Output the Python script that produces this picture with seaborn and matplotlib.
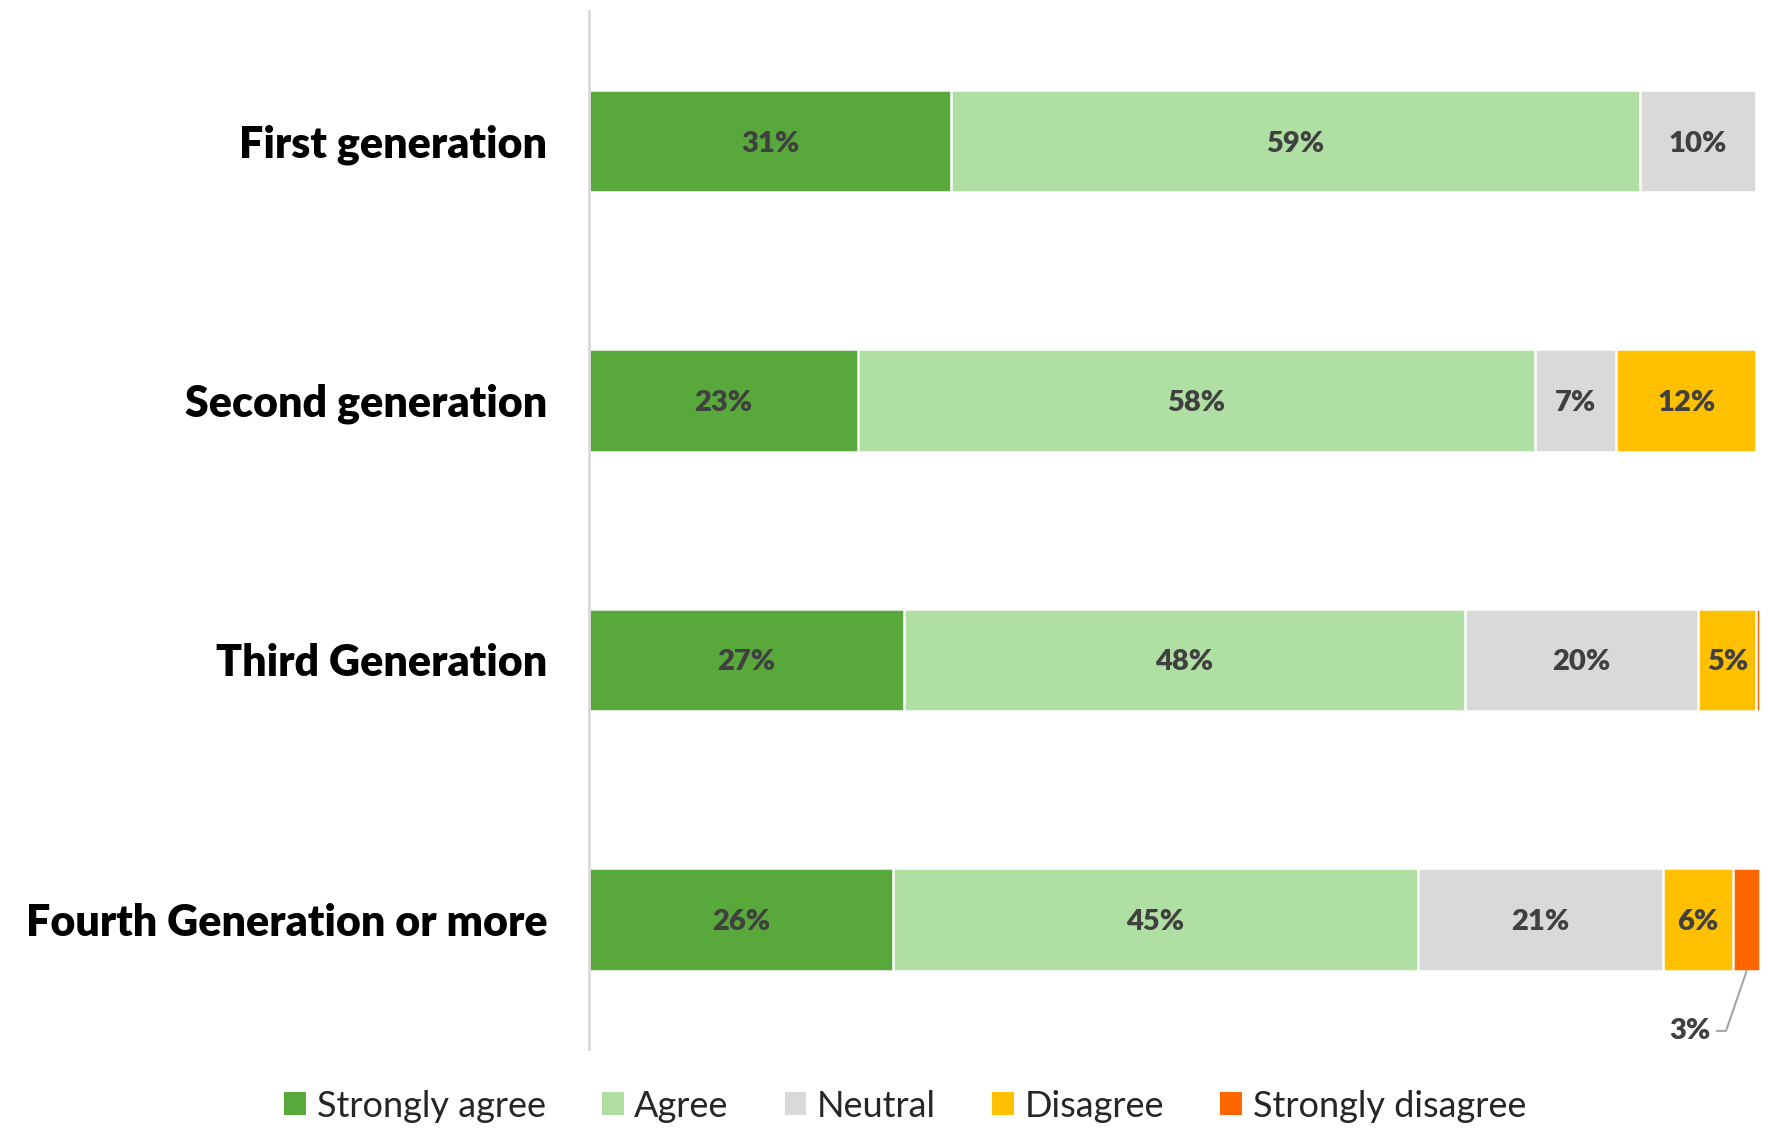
import matplotlib
matplotlib.use("Agg")
import matplotlib.pyplot as plt
import numpy as np
import pandas as pd
import seaborn as sns
from matplotlib.patches import Patch

sns.set_style("white")
plt.rcParams["font.family"] = ["Lato", "DejaVu Sans"]

generations = ["First generation", "Second generation", "Third Generation", "Fourth Generation or more"]
categories = ["Strongly agree", "Agree", "Neutral", "Disagree", "Strongly disagree"]
colors = ["#58a83b", "#b0dfa3", "#d9d9d9", "#ffc000", "#ff6600"]

strongly_agree = [31, 23, 27, 26]
agree = [59, 58, 48, 45]
neutral = [10, 7, 20, 21]
disagree = [0, 12, 5, 6]
strongly_disagree = [0, 0, 0.3, 2.3]
small_label = "3%"

df = pd.DataFrame(
    {
        "generation": generations,
        "Strongly agree": strongly_agree,
        "Agree": agree,
        "Neutral": neutral,
        "Disagree": disagree,
        "Strongly disagree": strongly_disagree,
    }
)
cum = df[categories].cumsum(axis=1)

fig = plt.figure(figsize=(17.68, 11.28), dpi=100)
ax = fig.add_axes([589 / 1768, 0.070, (1760 - 589) / 1768, 0.920])

# draw cumulative layers from the widest one down so each segment shows
for cat, col in reversed(list(zip(categories, colors))):
    sns.barplot(
        x=cum[cat],
        y=df["generation"],
        orient="h",
        color=col,
        saturation=1,
        width=0.395,
        edgecolor="white",
        linewidth=1.8,
        ax=ax,
    )

# segment labels
for i in range(len(df)):
    left = 0
    for cat in categories:
        v = df.loc[i, cat]
        if v >= 4:
            ax.text(left + v / 2, i + 0.01, f"{v:.0f}%", ha="center", va="center",
                    fontsize=21, fontweight="heavy", color="#404040")
        left += v

# leader label for the small segment in the last bar
i = len(df) - 1
x_mid = cum.loc[i, "Disagree"] + df.loc[i, "Strongly disagree"] / 2
ax.annotate(
    small_label,
    xy=(x_mid, i + 0.2),
    xytext=(94.3, i + 0.43),
    ha="center",
    va="center",
    fontsize=21,
    fontweight="heavy",
    color="#404040",
    arrowprops=dict(arrowstyle="-", color="#a6a6a6", lw=1.5,
                    connectionstyle="angle,angleA=0,angleB=71,rad=0",
                    shrinkA=2, shrinkB=0),
)

ax.set_xlim(0, 100.3)
ax.set_ylim(3.5, -0.5)
ax.set_xlabel("")
ax.set_ylabel("")
ax.set_xticks([])
ax.tick_params(axis="y", length=0, pad=30)
for lab in ax.get_yticklabels():
    lab.set_fontsize(31)
    lab.set_fontweight("heavy")
    lab.set_color("black")
    lab.set_va("center_baseline")
for s in ["top", "right", "bottom"]:
    ax.spines[s].set_visible(False)
ax.spines["left"].set_color("#d9d9d9")
ax.spines["left"].set_linewidth(2)

handles = [Patch(facecolor=c, edgecolor="none") for c in colors]
fig.legend(
    handles,
    categories,
    loc="center",
    bbox_to_anchor=(0.512, 0.0195),
    ncol=5,
    frameon=False,
    fontsize=26,
    handlelength=0.6,
    handleheight=0.6,
    handletextpad=0.3,
    columnspacing=1.55,
)

fig.savefig("out.png", dpi=100)
